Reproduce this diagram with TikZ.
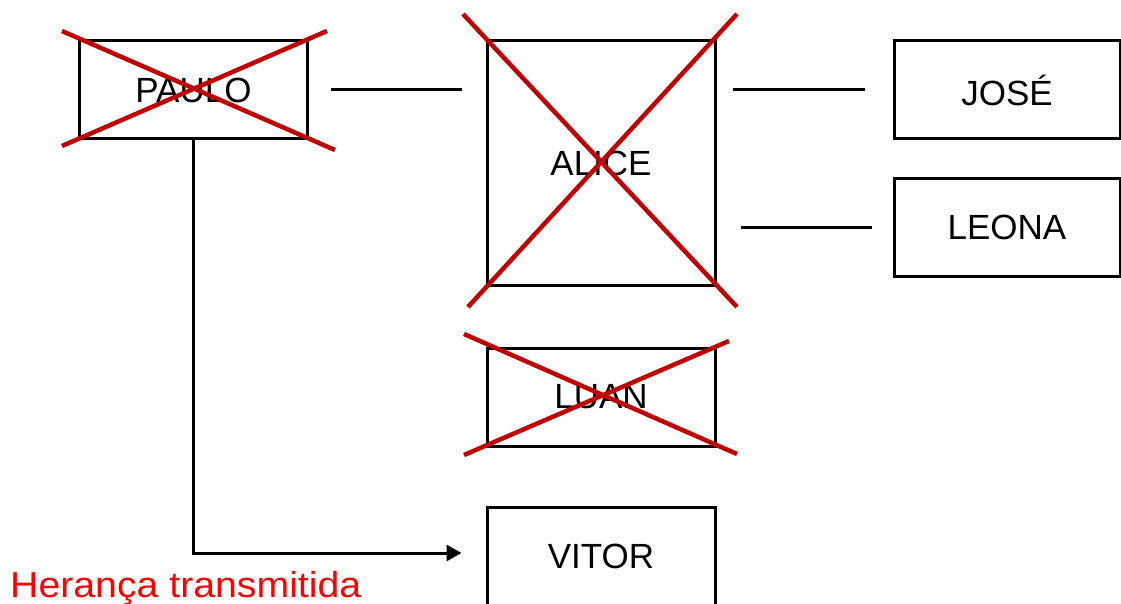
\documentclass[tikz,border=0pt]{standalone}
\usepackage{fontspec}
\setmainfont{Liberation Sans}
\usetikzlibrary{arrows.meta,calc}
\definecolor{crossred}{HTML}{C00000}
\definecolor{notered}{HTML}{FF0000}
\tikzset{
  person/.style={draw=black, line width=3pt, minimum width=228pt, minimum height=98pt,
    inner sep=0pt, font=\fontsize{35}{40}\selectfont},
  link/.style={draw=black, line width=3pt},
  strike/.style={draw=crossred, line width=4.5pt},
  heir/.style={draw=black, line width=3pt, -{Triangle[length=15pt,width=16pt]}},
  note/.style={text=notered, font=\fontsize{36}{40}\selectfont, inner sep=0pt}
}
\begin{document}
\begin{tikzpicture}[x=1pt, y=-1pt]
  \useasboundingbox (0,0) rectangle (1121,604);

  % family members
  \node[person] (paulo) at (193.5,90) {PAULO};
  \node[person, minimum height=244pt] (alice) at (601,163) {ALICE};
  \node[person, minimum width=226pt] (jose) at (1007,90) {JOSÉ};
  \node[person, minimum width=226pt] (leona) at (1007,227.5) {LEONA};
  \node[person] (luan) at (601,397) {LUAN};
  \node[person] (vitor) at (601,556) {VITOR};

  % relationship lines
  \draw[link] ($(paulo.east)+(22,0)$) -- ($(alice.west |- paulo.east)+(-24,0)$);
  \draw[link] ($(alice.east |- jose.west)+(16,0)$) -- ($(jose.west)+(-28,0)$);
  \draw[link] ($(alice.east |- leona.west)+(24,0)$) -- ($(leona.west)+(-21,0)$);

  % inheritance path
  \coordinate (tip) at ($(vitor.west)+(-24,-3)$);
  \draw[heir] (paulo.south) |- (tip);

  % deceased marks
  \draw[strike] (62,31) -- (335,150);
  \draw[strike] (327,31) -- (62,146);
  \draw[strike] (463,14) -- (737,307);
  \draw[strike] (737,14) -- (468,307);
  \draw[strike] (464,334) -- (737,454);
  \draw[strike] (729,341) -- (464,455);

  % caption
  \node[note, anchor=base west] (caption) at (10,597) {\scalebox{1.09}[1]{Herança transmitida}};
\end{tikzpicture}
\end{document}
